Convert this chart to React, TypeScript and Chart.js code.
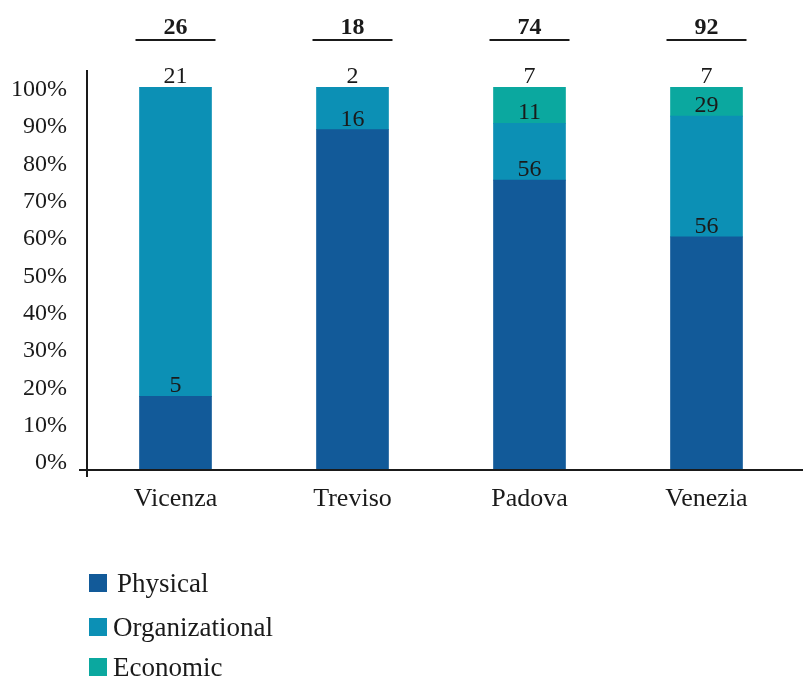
import React, { useEffect, useRef } from "react";
import { Chart, registerables } from "chart.js";

Chart.register(...registerables);

const categories = ["Vicenza", "Treviso", "Padova", "Venezia"];
const seriesNames = ["Physical", "Organizational", "Economic"];
const physical = [5, 16, 56, 56];
const organizational = [21, 2, 11, 29];
const economic = [0, 0, 7, 7];
const totals = [26, 18, 74, 92];
const colors = ["#125A99", "#0C90B5", "#0BA89F"];
const yTickValues = [0, 10, 20, 30, 40, 50, 60, 70, 80, 90, 100];

const FONT = "'Liberation Serif', 'Times New Roman', serif";
const INK = "#1a1a1a";

const rawSeries = [physical, organizational, economic];

const overlayPlugin = {
  id: "overlay",
  afterDraw(chart: any) {
    const ctx = chart.ctx as CanvasRenderingContext2D;
    const area = chart.chartArea;
    const xs = chart.scales.x;
    ctx.save();
    // segment labels
    ctx.fillStyle = INK;
    ctx.font = `24px ${FONT}`;
    ctx.textAlign = "center";
    ctx.textBaseline = "alphabetic";
    chart.data.datasets.forEach((_ds: any, i: number) => {
      const meta = chart.getDatasetMeta(i);
      meta.data.forEach((bar: any, j: number) => {
        const raw = rawSeries[i][j];
        if (!raw) return;
        ctx.fillText(String(raw), bar.x, bar.y - 4);
      });
    });
    // totals
    ctx.font = `bold 24px ${FONT}`;
    ctx.strokeStyle = INK;
    ctx.lineWidth = 2;
    totals.forEach((t, j) => {
      const cx = xs.getPixelForValue(j);
      ctx.fillText(String(t), cx, 34);
      ctx.beginPath();
      ctx.moveTo(cx - 40, 40);
      ctx.lineTo(cx + 40, 40);
      ctx.stroke();
    });
    // axes
    ctx.beginPath();
    ctx.moveTo(area.left, 70);
    ctx.lineTo(area.left, area.bottom + 7);
    ctx.moveTo(area.left - 8, area.bottom);
    ctx.lineTo(chart.width, area.bottom);
    ctx.stroke();
    // legend
    ctx.textAlign = "left";
    ctx.textBaseline = "middle";
    ctx.font = `27px ${FONT}`;
    const rows = [584, 628, 668];
    seriesNames.forEach((name, i) => {
      ctx.fillStyle = colors[i];
      ctx.fillRect(89, rows[i] - 10, 18, 18);
      ctx.fillStyle = INK;
      ctx.fillText(name, i === 0 ? 117 : 113, rows[i] + 1);
    });
    ctx.restore();
  },
};

export default function App() {
  const ref = useRef<HTMLCanvasElement | null>(null);
  useEffect(() => {
    if (!ref.current) return;
    const datasets = rawSeries.map((vals, i) => ({
      label: seriesNames[i],
      data: vals.map((v, j) => (v / totals[j]) * 100),
      backgroundColor: colors[i],
      borderWidth: 0,
      barThickness: 72,
    }));
    const chart = new Chart(ref.current, {
      type: "bar",
      data: { labels: categories, datasets },
      options: {
        responsive: false,
        animation: false,
        layout: { padding: { top: 87, right: 8, bottom: 0, left: 0 } },
        plugins: { legend: { display: false }, tooltip: { enabled: false } },
        scales: {
          x: {
            stacked: true,
            grid: { display: false, drawTicks: false },
            border: { display: false },
            ticks: { color: INK, font: { family: FONT, size: 26 }, padding: 14 },
            afterFit: (s: any) => {
              s.height = 209;
            },
          },
          y: {
            stacked: true,
            display: false,
            min: 0,
            max: 100,
          },
          yLabels: {
            position: "left",
            min: -1.9,
            max: 100.75,
            afterBuildTicks: (s: any) => {
              s.ticks = yTickValues.map((v) => ({ value: v }));
            },
            grid: { display: false, drawTicks: false },
            border: { display: false },
            ticks: {
              color: INK,
              font: { family: FONT, size: 24 },
              padding: 20,
              callback: (v: any) => `${v}%`,
            },
            afterFit: (s: any) => {
              s.width = 87;
            },
          },
        },
      },
      plugins: [overlayPlugin],
    });
    return () => chart.destroy();
  }, []);
  return (
    <div style={{ position: "absolute", left: 0, top: 0, width: 803, height: 679, background: "#fff" }}>
      <canvas ref={ref} width={803} height={679} />
    </div>
  );
}
